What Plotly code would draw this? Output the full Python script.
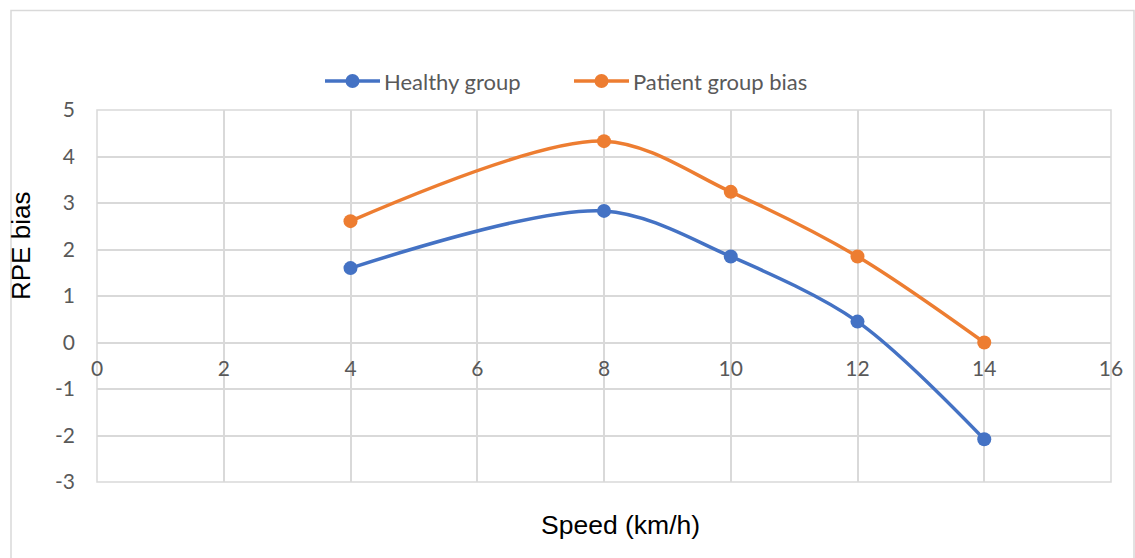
import plotly.graph_objects as go

speed = [4, 8, 10, 12, 14]
healthy = [1.60, 2.83, 1.85, 0.45, -2.08]
patient = [2.61, 4.33, 3.24, 1.85, 0.0]
series_names = ["Healthy group", "Patient group bias"]
x_ticks = [0, 2, 4, 6, 8, 10, 12, 14, 16]
y_ticks = [-3, -2, -1, 0, 1, 2, 3, 4, 5]

BLUE = "#4472C4"
ORANGE = "#ED7D31"
GRID = "#d9d9d9"
TICKFONT = dict(family="Lato", size=21, color="#595959")

fig = go.Figure()
fig.add_trace(go.Scatter(x=speed, y=healthy, name=series_names[0], mode="lines+markers",
                         line=dict(color=BLUE, width=3.5, shape="spline", smoothing=0.9),
                         marker=dict(size=14, color=BLUE)))
fig.add_trace(go.Scatter(x=speed, y=patient, name=series_names[1], mode="lines+markers",
                         line=dict(color=ORANGE, width=3.5, shape="spline", smoothing=0.9),
                         marker=dict(size=14, color=ORANGE)))

L, R, T, B = 97, 24, 110, 76
W, H = 1135, 558
pw, ph = W - L - R, H - T - B


def px(xp):
    return (xp - L) / pw


def py(yp):
    return ((H - B) - yp) / ph


shapes = [
    dict(type="rect", xref="paper", yref="paper", x0=0, x1=1, y0=0, y1=1,
         line=dict(color=GRID, width=1.5), fillcolor="rgba(0,0,0,0)", layer="below"),
    dict(type="rect", xref="paper", yref="paper",
         x0=px(11), x1=px(1134), y0=py(700), y1=py(10.5),
         line=dict(color=GRID, width=1.5), fillcolor="rgba(0,0,0,0)", layer="below"),
]
annotations = [
    dict(text="Speed (km/h)", xref="paper", yref="paper", x=px(620), y=py(525),
         xanchor="center", yanchor="middle", showarrow=False,
         font=dict(family="Liberation Sans", size=26.5, color="black")),
    dict(text="RPE bias", xref="paper", yref="paper", x=px(21), y=py(246),
         xanchor="center", yanchor="middle", showarrow=False, textangle=-90,
         font=dict(family="Liberation Sans", size=26, color="black")),
]

# custom legend (line + marker + label)
leg_y = 81
for name, color, x0 in [(series_names[0], BLUE, 325), (series_names[1], ORANGE, 574)]:
    shapes.append(dict(type="line", xref="paper", yref="paper", x0=px(x0), x1=px(x0 + 55),
                       y0=py(leg_y), y1=py(leg_y), line=dict(color=color, width=3.5)))
    cx = x0 + 27.5
    shapes.append(dict(type="circle", xref="paper", yref="paper", x0=px(cx - 7), x1=px(cx + 7),
                       y0=py(leg_y + 7), y1=py(leg_y - 7), fillcolor=color, line=dict(color=color, width=0)))
    annotations.append(dict(text=name, xref="paper", yref="paper", x=px(x0 + 57), y=py(leg_y),
                            xanchor="left", yanchor="middle", showarrow=False,
                            font=dict(family="Lato", size=22, color="#595959")))

fig.update_layout(
    width=W, height=H,
    margin=dict(l=L, r=R, t=T, b=B),
    plot_bgcolor="white", paper_bgcolor="white",
    showlegend=False,
    xaxis=dict(range=[0, 16], tickvals=x_ticks, ticktext=[str(v) for v in x_ticks],
               showgrid=True, gridcolor=GRID, gridwidth=1.5,
               zeroline=False, showline=False, tickfont=TICKFONT, anchor="free",
               position=3 / 8, ticklabelstandoff=11, ticks=""),
    yaxis=dict(range=[-3, 5], tickvals=y_ticks, ticktext=[str(v) for v in y_ticks],
               showgrid=True, gridcolor=GRID, gridwidth=1.5,
               zeroline=False, showline=False, tickfont=TICKFONT, ticklabelstandoff=21, ticks=""),
    shapes=shapes,
    annotations=annotations,
)

fig.write_html("out.html")
